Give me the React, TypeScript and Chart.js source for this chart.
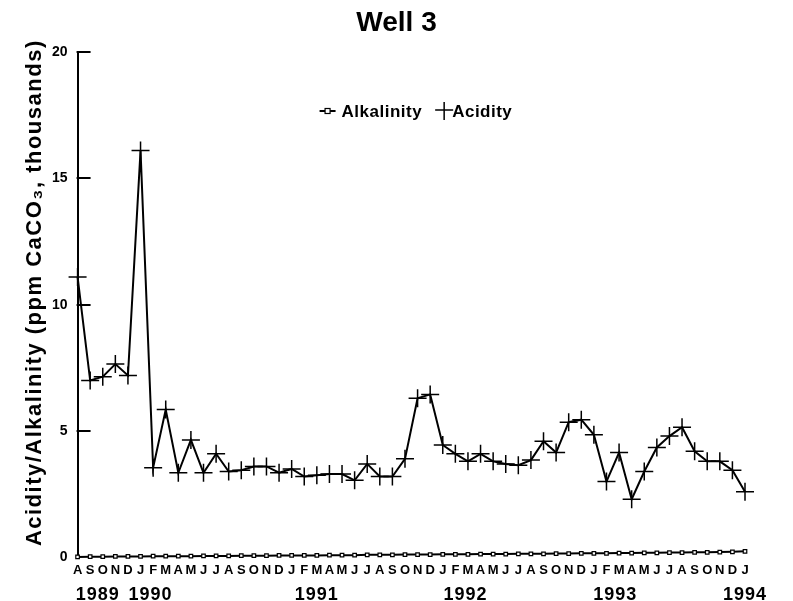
import { useEffect, useRef } from "react";
import { Chart, registerables } from "chart.js";

Chart.register(...registerables);

const FONT = "'Liberation Sans', Arial, Helvetica, sans-serif";

const chartTitle = "Well 3";
const yAxisTitle = "Acidity/Alkalinity (ppm CaCO\u2083, thousands)";

const monthLabels = [
  "A", "S", "O", "N", "D",
  "J", "F", "M", "A", "M", "J", "J", "A", "S", "O", "N", "D",
  "J", "F", "M", "A", "M", "J", "J", "A", "S", "O", "N", "D",
  "J", "F", "M", "A", "M", "J", "J", "A", "S", "O", "N", "D",
  "J", "F", "M", "A", "M", "J", "J", "A", "S", "O", "N", "D",
  "J",
];

const yearLabels = ["1989", "1990", "1991", "1992", "1993", "1994"];
const yearTickIndex = [1.6, 5.8, 19, 30.8, 42.7, 53];

const yTicks = [0, 5, 10, 15, 20];

const alkalinity = [
  0.02, 0.03, 0.03, 0.04, 0.04, 0.04, 0.05, 0.05, 0.05, 0.05,
  0.06, 0.06, 0.06, 0.07, 0.07, 0.07, 0.08, 0.08, 0.08, 0.08,
  0.09, 0.09, 0.09, 0.1, 0.1, 0.1, 0.11, 0.11, 0.11, 0.12,
  0.12, 0.12, 0.13, 0.13, 0.13, 0.14, 0.14, 0.14, 0.15, 0.15,
  0.16, 0.16, 0.16, 0.17, 0.17, 0.18, 0.18, 0.19, 0.19, 0.2,
  0.2, 0.21, 0.22, 0.24,
];

const acidity = [
  11.1, 7.0, 7.15, 7.65, 7.2,
  16.1, 3.55, 5.85, 3.35, 4.65, 3.35, 4.1, 3.4, 3.45, 3.6, 3.6, 3.35,
  3.5, 3.2, 3.25, 3.3, 3.3, 3.05, 3.7, 3.2, 3.2, 3.9, 6.3, 6.45,
  4.45, 4.1, 3.8, 4.1, 3.8, 3.7, 3.65, 3.85, 4.6, 4.15, 5.35, 5.45,
  4.85, 3.0, 4.15, 2.3, 3.4, 4.35, 4.8, 5.15, 4.2, 3.8, 3.8, 3.45,
  2.6,
];

const seriesNames = ["Alkalinity", "Acidity"];

const innerTicksPlugin = {
  id: "innerTicks",
  afterDraw(chart: any) {
    const { ctx, chartArea, scales } = chart;
    const y = scales.y;
    ctx.save();
    ctx.strokeStyle = "#000";
    ctx.lineWidth = 2;
    yTicks.forEach((v) => {
      if (v === 0) return;
      const py = Math.round(y.getPixelForValue(v));
      ctx.beginPath();
      ctx.moveTo(chartArea.left - 1, py);
      ctx.lineTo(chartArea.left + 13, py);
      ctx.stroke();
    });
    ctx.restore();
  },
};

const textPlugin = {
  id: "texts",
  afterDraw(chart: any) {
    const { ctx, chartArea, scales, width } = chart;
    const x = scales.x;
    ctx.save();
    ctx.fillStyle = "#000";
    ctx.textAlign = "center";
    ctx.textBaseline = "middle";
    // title
    ctx.font = `bold 28px ${FONT}`;
    ctx.fillText(chartTitle, width / 2, 23);
    // years
    ctx.font = `bold 18px ${FONT}`;
    (ctx as any).letterSpacing = "1px";
    yearLabels.forEach((label, i) => {
      ctx.fillText(label, x.getPixelForValue(yearTickIndex[i]), chartArea.bottom + 38);
    });
    // y axis title
    ctx.font = `bold 22px ${FONT}`;
    (ctx as any).letterSpacing = "1.5px";
    ctx.translate(35, (chartArea.top + chartArea.bottom) / 2 - 12);
    ctx.rotate(-Math.PI / 2);
    ctx.fillText(yAxisTitle, 0, 0);
    ctx.restore();
  },
};

const legendPlugin = {
  id: "innerLegend",
  afterDraw(chart: any) {
    const { ctx, chartArea } = chart;
    const cy = chartArea.top + 59;
    const startX = chartArea.left + 242;
    ctx.save();
    ctx.fillStyle = "#000";
    ctx.strokeStyle = "#000";
    ctx.font = `bold 17px ${FONT}`;
    (ctx as any).letterSpacing = "0.5px";
    ctx.textBaseline = "middle";
    ctx.textAlign = "left";
    // Alkalinity icon
    ctx.lineWidth = 2;
    ctx.beginPath();
    ctx.moveTo(startX, cy);
    ctx.lineTo(startX + 16, cy);
    ctx.stroke();
    ctx.fillStyle = "#fff";
    ctx.lineWidth = 1.2;
    ctx.fillRect(startX + 5.5, cy - 2.5, 5, 5);
    ctx.strokeRect(startX + 5.5, cy - 2.5, 5, 5);
    ctx.fillStyle = "#000";
    ctx.fillText(seriesNames[0], startX + 22, cy + 1);
    const w0 = ctx.measureText(seriesNames[0]).width;
    // Acidity icon
    const cx = startX + 22 + w0 + 22;
    ctx.lineWidth = 1.5;
    ctx.beginPath();
    ctx.moveTo(cx - 9, cy - 1);
    ctx.lineTo(cx + 9, cy - 1);
    ctx.moveTo(cx, cy - 9);
    ctx.lineTo(cx, cy + 9);
    ctx.stroke();
    ctx.fillText(seriesNames[1], cx + 8, cy + 1);
    ctx.restore();
  },
};

export default function App() {
  const canvasRef = useRef<HTMLCanvasElement | null>(null);

  useEffect(() => {
    document.body.style.margin = "0";
    const canvas = canvasRef.current;
    if (!canvas) return;
    const chart = new Chart(canvas, {
      type: "line",
      data: {
        labels: monthLabels,
        datasets: [
          {
            label: seriesNames[0],
            data: alkalinity,
            borderColor: "#000",
            borderWidth: 2,
            pointStyle: "rect",
            pointRadius: 2.5,
            pointBackgroundColor: "#fff",
            pointBorderColor: "#000",
            pointBorderWidth: 1.2,
            tension: 0,
            clip: false,
          },
          {
            label: seriesNames[1],
            data: acidity,
            borderColor: "#000",
            borderWidth: 2,
            pointStyle: "cross",
            pointRadius: 9,
            pointBorderColor: "#000",
            pointBorderWidth: 1.5,
            tension: 0,
            clip: false,
          },
        ],
      },
      options: {
        responsive: false,
        animation: false,
        devicePixelRatio: 1,
        layout: { padding: { left: 42, right: 48, top: 52, bottom: 18 } },
        plugins: {
          legend: { display: false },
          tooltip: { enabled: false },
          title: { display: false },
        },
        scales: {
          x: {
            type: "category",
            offset: false,
            grid: { display: false, drawTicks: false },
            border: { display: false },
            ticks: {
              autoSkip: false,
              maxRotation: 0,
              minRotation: 0,
              color: "#000",
              padding: 5,
              font: { family: FONT, size: 13, weight: "bold" },
            },
          },
          y: {
            min: 0,
            max: 20,
            grid: { display: false, drawTicks: false },
            border: { display: true, color: "#000", width: 2 },
            ticks: {
              stepSize: 5,
              color: "#000",
              padding: 10,
              font: { family: FONT, size: 14, weight: "bold" },
            },
            title: { display: false },
          },
        },
      },
      plugins: [innerTicksPlugin, textPlugin, legendPlugin],
    });
    return () => chart.destroy();
  }, []);

  return (
    <div style={{ width: 793, height: 601 }}>
      <canvas ref={canvasRef} width={793} height={601} style={{ display: "block" }} />
    </div>
  );
}
